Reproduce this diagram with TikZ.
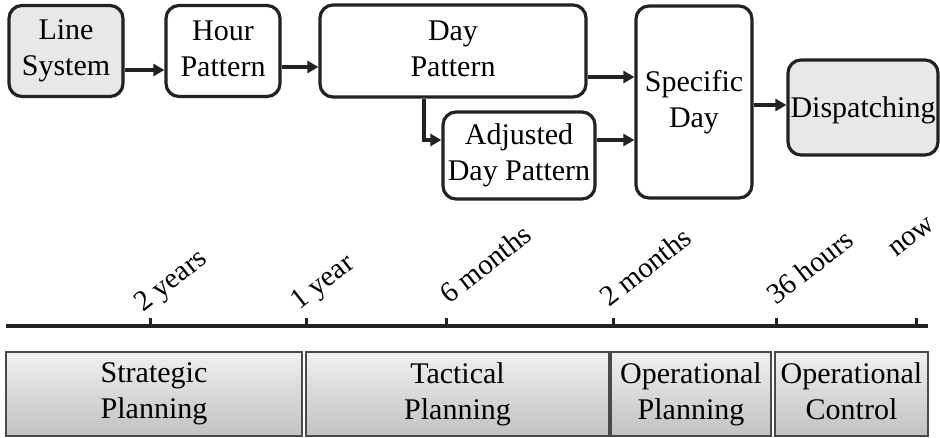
\documentclass[tikz,border=0pt]{standalone}
\usepackage{fontspec}
\setmainfont{Liberation Serif}
\usetikzlibrary{arrows.meta}
\definecolor{boxline}{HTML}{222222}
\definecolor{softgray}{HTML}{E8E8E8}
\definecolor{barline}{HTML}{4A4A4A}
% fixed line height and depth so that every box sets its lines alike
\newcommand\boxstrut{\rule[-5pt]{0pt}{31pt}}
\begin{document}
\begin{tikzpicture}[x=1pt,y=-1pt,
  txt/.style={font=\fontsize{30}{36}\selectfont, align=center, inner sep=0pt,
              execute at begin node=\boxstrut, execute at end node=\boxstrut},
  flowbox/.style={txt, draw=boxline, line width=3.2pt, rounded corners=13pt, fill=white},
  greybox/.style={flowbox, fill=softgray},
  arr/.style={draw=boxline, line width=3.4pt, -{Triangle[length=11pt,width=12pt]}},
  phase/.style={txt, draw=barline, line width=1.5pt, top color=black!6, bottom color=black!24},
  ticklabel/.style={font=\fontsize{29}{34}\selectfont, inner sep=0pt, anchor=base west, rotate=38}
]
\useasboundingbox (0,0) rectangle (940,437);

% process chain
\node[greybox, minimum width=114pt, minimum height=91pt] (ls) at (66,51) {Line\\System};
\node[flowbox, minimum width=114pt, minimum height=91pt] (hp) at (223,51) {Hour\\Pattern};
\node[flowbox, minimum width=266pt, minimum height=92pt] (dp) at (453,51) {Day\\Pattern};
\node[flowbox, minimum width=152pt, minimum height=87pt] (adj) at (519,155.5) {Adjusted\\Day Pattern};
\node[flowbox, minimum width=116pt, minimum height=192pt] (sd) at (694,102) {Specific\\Day};
\node[greybox, minimum width=150pt, minimum height=95pt] (disp) at (863,107.5) {Dispatching};

\draw[arr] ([yshift=-19pt]ls.east) -- ([yshift=-19pt]ls.east -| hp.west);
\draw[arr] ([yshift=-16pt]hp.east) -- ([yshift=-16pt]hp.east -| dp.west);
\draw[arr] ([yshift=-26pt]dp.east) -- ([yshift=-26pt]dp.east -| sd.west);
\draw[arr] ([xshift=-29pt]dp.south) |- ([yshift=15.5pt]adj.west);
\draw[arr] ([yshift=15.5pt]adj.east) -- ([yshift=15.5pt]adj.east -| sd.west);
\draw[arr] ([yshift=-3pt]sd.east) -- ([yshift=-3pt]sd.east -| disp.west);

% time axis
\coordinate (t0) at (6,326);
\coordinate (t1) at (928,326);
\draw[boxline, line width=4.5pt] (t0) -- (t1);
\foreach \x/\lx/\ly/\lab in {150/143/313/2 years, 306/299/311/1 year, 446/449/305/6 months,
                             613/609/308/2 months, 776/776/306/36 hours, 916/896/258/now}{
  \draw[boxline, line width=3pt] (\x,326) -- (\x,318);
  \node[ticklabel] at (\lx,\ly) {\lab};
}

% planning horizons
\node[phase, minimum width=296pt, minimum height=84pt] (sp) at (154,394) {Strategic\\Planning};
\node[phase, minimum width=303pt, minimum height=84pt] (tp) at (457.5,394) {Tactical\\Planning};
\node[phase, minimum width=160pt, minimum height=84pt] (op) at (691,394) {Operational\\Planning};
\node[phase, minimum width=153pt, minimum height=84pt] (oc) at (851.5,394) {Operational\\Control};
\end{tikzpicture}
\end{document}
